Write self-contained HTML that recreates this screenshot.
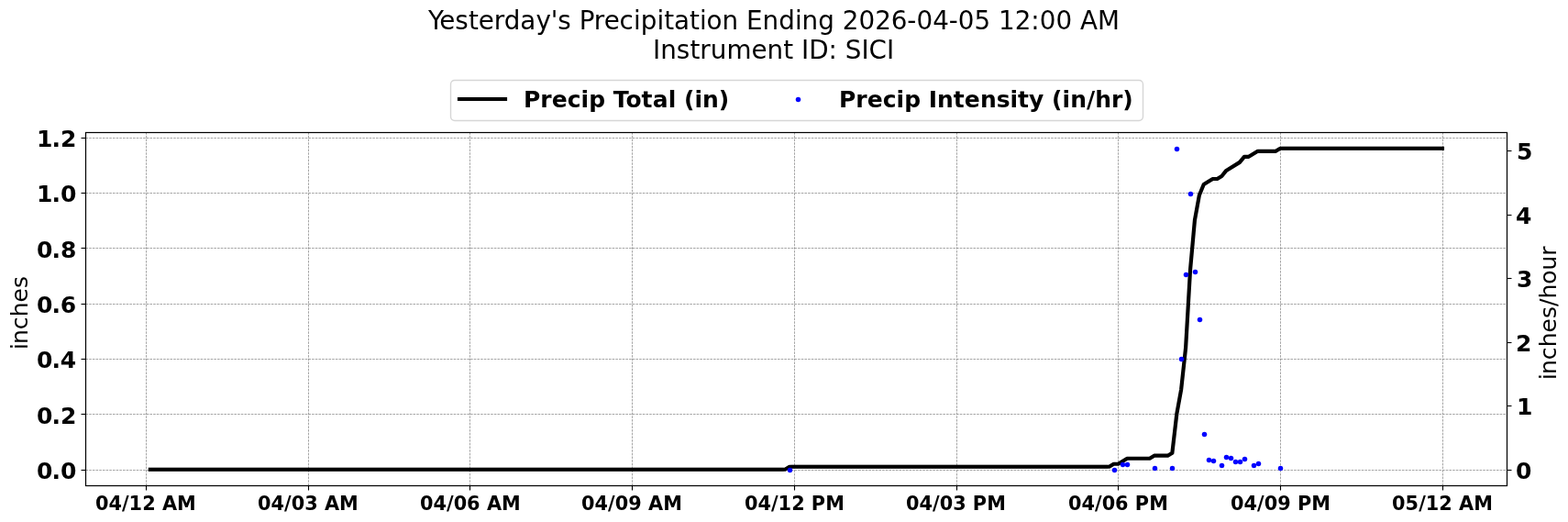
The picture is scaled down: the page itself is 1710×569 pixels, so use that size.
<!DOCTYPE html>
<html lang="en"><head><meta charset="utf-8"><title>Yesterday's Precipitation</title>
<style>
html,body{margin:0;padding:0;background:#fff;}
body{width:1710px;height:569px;overflow:hidden;}
svg{display:block;}
text{font-family:'DejaVu Sans', 'Liberation Sans', sans-serif;fill:#000;}
.b{font-weight:700;}
.t18{font-size:25px;} .t15{font-size:20.833px;} .t20{font-size:27.778px;}
.grid{stroke:#808080;stroke-width:0.7;stroke-dasharray:2.56944 1.11111;fill:none;}
.tick{stroke:#000;stroke-width:1.111;fill:none;}
.spine{stroke:#000;stroke-width:1.22;fill:none;stroke-linecap:square;}
.total{stroke:#000;stroke-width:4.1667;fill:none;stroke-linecap:square;stroke-linejoin:round;}
.dot{fill:#00f;}
</style></head><body>
<svg width="1710" height="569" viewBox="0 0 1710 569">
<rect x="0" y="0" width="1710" height="569" fill="#fff"/>
<g class="grid">
<line x1="159.5" y1="529.5" x2="159.5" y2="144.5" stroke-dashoffset="0"/>
<line x1="336.5" y1="529.5" x2="336.5" y2="144.5" stroke-dashoffset="0"/>
<line x1="512.5" y1="529.5" x2="512.5" y2="144.5" stroke-dashoffset="0"/>
<line x1="689.5" y1="529.5" x2="689.5" y2="144.5" stroke-dashoffset="0"/>
<line x1="866.5" y1="529.5" x2="866.5" y2="144.5" stroke-dashoffset="0"/>
<line x1="1043.5" y1="529.5" x2="1043.5" y2="144.5" stroke-dashoffset="0"/>
<line x1="1219.5" y1="529.5" x2="1219.5" y2="144.5" stroke-dashoffset="0"/>
<line x1="1396.5" y1="529.5" x2="1396.5" y2="144.5" stroke-dashoffset="0"/>
<line x1="1573.5" y1="529.5" x2="1573.5" y2="144.5" stroke-dashoffset="0"/>
<line x1="93.5" y1="512.5" x2="1643.5" y2="512.5" stroke-dashoffset="0"/>
<line x1="93.5" y1="451.5" x2="1643.5" y2="451.5" stroke-dashoffset="0"/>
<line x1="93.5" y1="391.5" x2="1643.5" y2="391.5" stroke-dashoffset="0"/>
<line x1="93.5" y1="331.5" x2="1643.5" y2="331.5" stroke-dashoffset="0"/>
<line x1="93.5" y1="270.5" x2="1643.5" y2="270.5" stroke-dashoffset="0"/>
<line x1="93.5" y1="210.5" x2="1643.5" y2="210.5" stroke-dashoffset="0"/>
<line x1="93.5" y1="150.5" x2="1643.5" y2="150.5" stroke-dashoffset="0"/>
</g>
<polyline class="total" points="163.867,511.778 856.138,511.778 861.048,508.761 1209.639,508.761 1214.548,505.743 1219.458,505.743 1229.278,499.709 1253.826,499.709 1258.736,496.692 1273.465,496.692 1278.375,493.674 1283.284,451.433 1288.194,424.278 1293.104,379.019 1298.014,294.536 1302.923,240.226 1307.833,213.071 1312.743,201.002 1322.562,194.967 1327.472,194.967 1332.382,191.95 1337.291,185.916 1352.021,176.864 1356.93,170.83 1361.84,170.83 1371.66,164.795 1391.298,164.795 1396.208,161.778 1572.958,161.778"/>
<rect x="161.784" y="509" width="692.854" height="1" fill="#000" fill-opacity="0.073"/>
<rect x="161.784" y="513" width="692.854" height="1" fill="#000" fill-opacity="0.444"/>
<rect x="862.548" y="506" width="345.59" height="1" fill="#000" fill-opacity="0.1"/>
<rect x="862.548" y="510" width="345.59" height="1" fill="#000" fill-opacity="0.381"/>
<rect x="1397.708" y="159" width="177.333" height="1" fill="#000" fill-opacity="0.073"/>
<rect x="1397.708" y="163" width="177.333" height="1" fill="#000" fill-opacity="0.444"/>
<g class="tick">
<line x1="159.5" y1="529.5" x2="159.5" y2="534.5"/>
<line x1="336.5" y1="529.5" x2="336.5" y2="534.5"/>
<line x1="512.5" y1="529.5" x2="512.5" y2="534.5"/>
<line x1="689.5" y1="529.5" x2="689.5" y2="534.5"/>
<line x1="866.5" y1="529.5" x2="866.5" y2="534.5"/>
<line x1="1043.5" y1="529.5" x2="1043.5" y2="534.5"/>
<line x1="1219.5" y1="529.5" x2="1219.5" y2="534.5"/>
<line x1="1396.5" y1="529.5" x2="1396.5" y2="534.5"/>
<line x1="1573.5" y1="529.5" x2="1573.5" y2="534.5"/>
<line x1="88.5" y1="512.5" x2="93.5" y2="512.5"/>
<line x1="88.5" y1="451.5" x2="93.5" y2="451.5"/>
<line x1="88.5" y1="391.5" x2="93.5" y2="391.5"/>
<line x1="88.5" y1="331.5" x2="93.5" y2="331.5"/>
<line x1="88.5" y1="270.5" x2="93.5" y2="270.5"/>
<line x1="88.5" y1="210.5" x2="93.5" y2="210.5"/>
<line x1="88.5" y1="150.5" x2="93.5" y2="150.5"/>
<line x1="1643.5" y1="512.5" x2="1648.5" y2="512.5"/>
<line x1="1643.5" y1="442.5" x2="1648.5" y2="442.5"/>
<line x1="1643.5" y1="373.5" x2="1648.5" y2="373.5"/>
<line x1="1643.5" y1="303.5" x2="1648.5" y2="303.5"/>
<line x1="1643.5" y1="234.5" x2="1648.5" y2="234.5"/>
<line x1="1643.5" y1="164.5" x2="1648.5" y2="164.5"/>
</g>
<g class="dot">
<circle cx="861.5" cy="512.5" r="2.74"/>
<circle cx="1215.5" cy="512.5" r="2.74"/>
<circle cx="1224.5" cy="506.5" r="2.74"/>
<circle cx="1229.5" cy="506.5" r="2.74"/>
<circle cx="1259.5" cy="510.5" r="2.74"/>
<circle cx="1278.5" cy="510.5" r="2.74"/>
<circle cx="1283.5" cy="162.5" r="2.74"/>
<circle cx="1288.5" cy="391.5" r="2.74"/>
<circle cx="1293.5" cy="299.5" r="2.74"/>
<circle cx="1298.5" cy="211.5" r="2.74"/>
<circle cx="1303.5" cy="296.5" r="2.74"/>
<circle cx="1308.5" cy="348.5" r="2.74"/>
<circle cx="1313.5" cy="473.5" r="2.74"/>
<circle cx="1318.5" cy="501.5" r="2.74"/>
<circle cx="1323.5" cy="502.5" r="2.74"/>
<circle cx="1332.5" cy="507.5" r="2.74"/>
<circle cx="1337.5" cy="498.5" r="2.74"/>
<circle cx="1342.5" cy="499.5" r="2.74"/>
<circle cx="1347.5" cy="503.5" r="2.74"/>
<circle cx="1352.5" cy="503.5" r="2.74"/>
<circle cx="1357.5" cy="500.5" r="2.74"/>
<circle cx="1367.5" cy="507.5" r="2.74"/>
<circle cx="1372.5" cy="505.5" r="2.74"/>
<circle cx="1396.5" cy="510.5" r="2.74"/>
</g>
<rect class="spine" x="93.5" y="144.5" width="1550" height="385"/>
<rect x="491.5" y="87.5" width="755" height="44" rx="4.4" ry="4.4" fill="#fff" fill-opacity="0.8" stroke="#ccc" stroke-opacity="0.8" stroke-width="1.39"/>
<line class="total" x1="501" y1="108" x2="551" y2="108"/>
<circle class="dot" cx="870.5" cy="108.5" r="2.74"/>
<text class="b t18" x="571 589.25 601.75 618.75 633.5 642.25 660 668.75 682.5 699.5 711.75 728.75 737.25 746 757.5 766 783.75" y="117">Precip Total (in)</text>
<text class="b t18" x="915 933.25 945.75 962.75 977.5 986.25 1004 1012.75 1022 1039.75 1051.75 1069 1086.75 1101.5 1110 1122 1138.5 1147 1158.5 1167.25 1185 1194.25 1212 1224.25" y="117">Precip Intensity (in/hr)</text>
<text class="t20" x="467 479.25 496.25 511 521.75 538.75 549.75 567.25 584.5 600.75 608.25 622.75 631.75 647.75 658.75 675.5 691 698.75 716.5 724.25 735 752 763 770.5 787.5 805.25 814 831.5 849.25 867 874.5 892.25 910 918.75 936.5 954.25 971.75 989.25 999.5 1017.25 1034.75 1044.75 1062.5 1080.25 1089 1106.75 1124.25 1133.75 1151.5 1169.25 1178 1197" y="32">Yesterday's Precipitation Ending 2026-04-05 12:00 AM</text>
<text class="t20" x="712 720.25 737.75 752.5 763.25 774.75 792.5 819.5 836.5 854.25 865 874 882.25 903.5 913 921.75 939.5 947.5 967" y="64">Instrument ID: SICI</text>
<text class="t18" transform="translate(30 342) rotate(-90)" x="-39 -33 -17.25 -3.25 12.5 28" y="0">inches</text>
<text class="t18" transform="translate(1697 342) rotate(-90)" x="-72 -66 -50.25 -36.25 -20.5 -5 8 16.5 32.25 47.5 63.25" y="0">inches/hour</text>
<text class="b t18" x="40 56.5 66" y="522">0.0</text>
<text class="b t18" x="40 56.5 66" y="462">0.2</text>
<text class="b t18" x="40 56.5 65.75" y="401">0.4</text>
<text class="b t18" x="40 56.5 65.75" y="341">0.6</text>
<text class="b t18" x="40 56.5 66" y="281">0.8</text>
<text class="b t18" x="40 56.5 66" y="220">1.0</text>
<text class="b t18" x="40 56.5 66" y="160">1.2</text>
<text class="b t18" x="1653" y="522">0</text>
<text class="b t18" x="1654" y="452">1</text>
<text class="b t18" x="1653" y="383">2</text>
<text class="b t18" x="1654" y="313">3</text>
<text class="b t18" x="1653" y="244">4</text>
<text class="b t18" x="1654" y="174">5</text>
<text class="b t15" x="104 118.5 133 140.5 155.25 169.75 177 193" y="556">04/12 AM</text>
<text class="b t15" x="281 295.5 310 317.75 332.25 346.75 354 370" y="556">04/03 AM</text>
<text class="b t15" x="458 472.5 487 494.75 509 523.75 531 547" y="556">04/06 AM</text>
<text class="b t15" x="634 648.5 663 670.75 685.25 699.75 707 723.25" y="556">04/09 AM</text>
<text class="b t15" x="812 826.5 841 848.5 863.25 877.75 884.75 900.25" y="556">04/12 PM</text>
<text class="b t15" x="988 1002.5 1017 1024.75 1039.25 1053.75 1060.75 1076.25" y="556">04/03 PM</text>
<text class="b t15" x="1165 1179.5 1194 1201.75 1216 1230.5 1237.75 1253.25" y="556">04/06 PM</text>
<text class="b t15" x="1342 1356.5 1371 1378.75 1393.25 1407.75 1415 1430.25" y="556">04/09 PM</text>
<text class="b t15" x="1518 1532.5 1547.25 1554.75 1569.25 1583.75 1591 1607.25" y="556">05/12 AM</text>
</svg>
</body></html>
